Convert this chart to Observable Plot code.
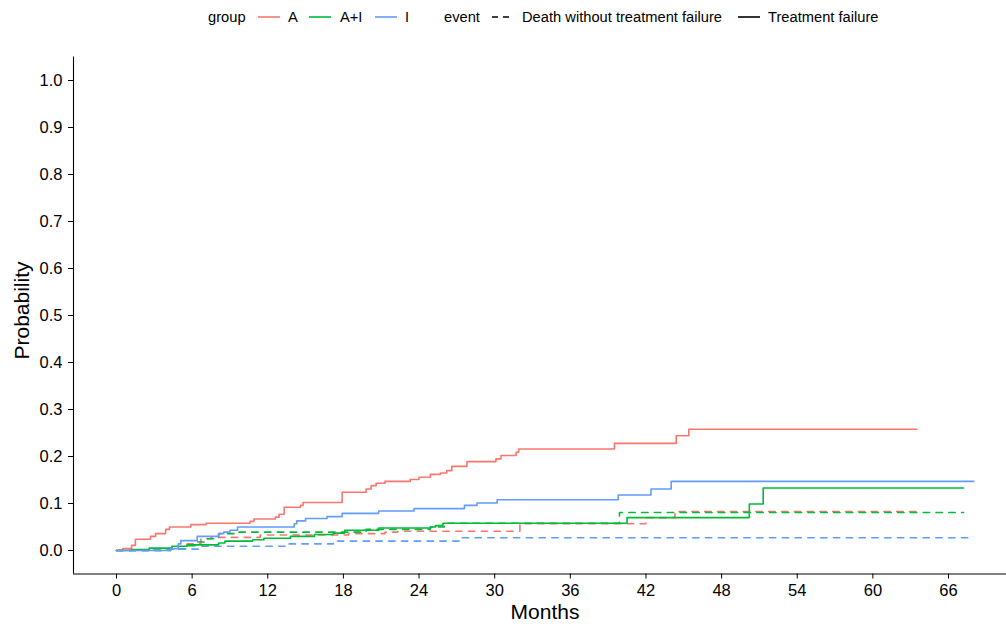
<!DOCTYPE html>
<html>
<head>
<meta charset="utf-8">
<script src="https://cdn.jsdelivr.net/npm/d3@7"></script>
<script src="https://cdn.jsdelivr.net/npm/@observablehq/plot@0.6"></script>
<style>
  html, body { margin: 0; padding: 0; background: #fff; }
  body { width: 1006px; height: 627px; overflow: hidden; font-family: "Liberation Sans", Arial, sans-serif; }
  #legend { position: relative; width: 1006px; height: 36px; font-size: 14.7px; color: #000; }
  #legend span { position: absolute; top: 17px; transform: translateY(-50%); white-space: nowrap; line-height: 1; }
  #legend svg { position: absolute; top: 12px; }
</style>
</head>
<body>
<div id="legend"></div>
<div id="chart"></div>
<script>
// ---- data ----
const groups = ["A", "A+I", "I"];
const groupColors = ["#F8766D", "#00BA38", "#619CFF"];
const events = ["Death without treatment failure", "Treatment failure"];

const xTicks = [0, 6, 12, 18, 24, 30, 36, 42, 48, 54, 60, 66];
const yTicks = [0, 0.1, 0.2, 0.3, 0.4, 0.5, 0.6, 0.7, 0.8, 0.9, 1.0];

// Treatment failure
const tfA_time = [0, 0.5, 1.2, 1.5, 2.7, 3.1, 3.9, 4.2, 5.9, 7.1, 10.6, 10.9, 12.6, 12.9, 13.3, 14.6, 14.8, 17.9, 19.8, 20.2, 20.6, 21.3, 23.3, 24.0, 24.9, 25.7, 26.2, 26.6, 27.8, 30.1, 30.5, 31.7, 31.9, 39.5, 44.4, 45.4, 63.5];
const tfA_prob = [0, 0.004, 0.011, 0.024, 0.030, 0.036, 0.045, 0.050, 0.055, 0.058, 0.062, 0.067, 0.071, 0.077, 0.092, 0.096, 0.102, 0.124, 0.131, 0.138, 0.143, 0.147, 0.151, 0.156, 0.162, 0.165, 0.170, 0.179, 0.189, 0.195, 0.202, 0.209, 0.216, 0.228, 0.244, 0.258, 0.258];

const tfAI_time = [0, 1.2, 2.6, 4.4, 5.6, 8.1, 8.6, 10.8, 11.7, 13.8, 15.7, 17.2, 18.1, 20.8, 24.9, 25.3, 25.9, 40.5, 50.2, 51.3, 67.2];
const tfAI_prob = [0, 0.002, 0.005, 0.009, 0.012, 0.016, 0.020, 0.023, 0.026, 0.030, 0.034, 0.037, 0.043, 0.048, 0.050, 0.053, 0.058, 0.070, 0.099, 0.133, 0.133];

const tfI_time = [0, 4.3, 4.9, 5.1, 6.4, 8.1, 8.5, 9.0, 9.6, 14.1, 14.3, 15.0, 16.7, 17.9, 20.8, 23.6, 27.6, 28.6, 30.2, 39.8, 42.4, 44.0, 68.0];
const tfI_prob = [0, 0.004, 0.014, 0.021, 0.030, 0.036, 0.039, 0.043, 0.050, 0.057, 0.063, 0.068, 0.072, 0.079, 0.084, 0.089, 0.096, 0.101, 0.108, 0.118, 0.131, 0.147, 0.147];

// Death without treatment failure
const dA_time = [0, 4.0, 5.6, 6.7, 7.5, 11.4, 18.4, 21.3, 22.3, 32.0, 42.0, 44.3, 63.5];
const dA_prob = [0, 0.003, 0.014, 0.025, 0.028, 0.033, 0.036, 0.039, 0.041, 0.057, 0.070, 0.083, 0.083];

const dAI_time = [0, 4.3, 5.6, 6.4, 7.2, 8.1, 9.6, 19.8, 24.9, 26.0, 39.9, 67.2];
const dAI_prob = [0, 0.003, 0.010, 0.018, 0.025, 0.036, 0.039, 0.045, 0.050, 0.058, 0.081, 0.081];

const dI_time = [0, 2.8, 6.7, 13.6, 17.2, 27.4, 68.0];
const dI_prob = [0, 0.003, 0.009, 0.014, 0.020, 0.027, 0.027];

// ---- build table ----
function series(group, event, times, probs) {
  return times.map((t, i) => ({group, event, id: group + "|" + event, time: t, prob: probs[i]}));
}
const rows = [
  ...series("A", events[1], tfA_time, tfA_prob),
  ...series("A+I", events[1], tfAI_time, tfAI_prob),
  ...series("I", events[1], tfI_time, tfI_prob),
  ...series("A", events[0], dA_time, dA_prob),
  ...series("A+I", events[0], dAI_time, dAI_prob),
  ...series("I", events[0], dI_time, dI_prob)
];
const solidRows = rows.filter(d => d.event === events[1]);
const dashRows = rows.filter(d => d.event === events[0]);

const xMin = -3.41, xMax = 70.6, yMin = -0.05, yMax = 1.05;
const font = "Liberation Sans, Arial, sans-serif";

const chart = Plot.plot({
  width: 1006,
  height: 591,
  marginLeft: 73,
  marginRight: 0,
  marginTop: 20.5,
  marginBottom: 53.5,
  style: {fontFamily: font, background: "#fff", color: "#000"},
  x: {domain: [xMin, xMax], label: null},
  y: {domain: [yMin, yMax], label: null},
  color: {domain: groups, range: groupColors},
  marks: [
    Plot.line(dashRows, {x: "time", y: "prob", z: "id", stroke: "group", curve: "step-after", strokeWidth: 1.6, strokeDasharray: "6.4,6.4"}),
    Plot.line(solidRows, {x: "time", y: "prob", z: "id", stroke: "group", curve: "step-after", strokeWidth: 1.6}),
    Plot.ruleX([xMin], {stroke: "#000", strokeWidth: 1.1}),
    Plot.ruleY([yMin], {stroke: "#000", strokeWidth: 1.1}),
    Plot.axisX({ticks: xTicks, tickFormat: d => String(d), tickSize: 5, tickPadding: 5, fontSize: 16.5, label: null, stroke: "#000", color: "#000"}),
    Plot.axisY({ticks: yTicks, tickFormat: d3.format(".1f"), tickSize: 5, tickPadding: 6, fontSize: 16.5, label: null, stroke: "#000", color: "#000"}),
    Plot.text(["Months"], {frameAnchor: "bottom", dx: 5, dy: 38.5, fontSize: 21, lineAnchor: "middle", textAnchor: "middle", fill: "#000"}),
    Plot.text(["Probability"], {frameAnchor: "left", dx: -51, dy: -5, rotate: -90, fontSize: 21, lineAnchor: "middle", textAnchor: "middle", fill: "#000"})
  ]
});
document.getElementById("chart").appendChild(chart);

// ---- legend (HTML) ----
const legend = document.getElementById("legend");
function addText(txt, left) {
  const s = document.createElement("span");
  s.textContent = txt;
  s.style.left = left + "px";
  legend.appendChild(s);
}
function addLine(left, color, dashed) {
  const ns = "http://www.w3.org/2000/svg";
  const svg = document.createElementNS(ns, "svg");
  svg.setAttribute("width", 22);
  svg.setAttribute("height", 10);
  svg.style.left = left + "px";
  const l = document.createElementNS(ns, "line");
  l.setAttribute("x1", 0); l.setAttribute("x2", 22);
  l.setAttribute("y1", 5); l.setAttribute("y2", 5);
  l.setAttribute("stroke", color);
  l.setAttribute("stroke-width", 1.6);
  if (dashed) l.setAttribute("stroke-dasharray", "6,5");
  svg.appendChild(l);
  legend.appendChild(svg);
}
addText("group", 208);
const gx = [[258, 288], [309, 340], [375, 405]];
groups.forEach((g, i) => { addLine(gx[i][0], groupColors[i], false); addText(g, gx[i][1]); });
addText("event", 444);
addLine(492, "#000", true); addText(events[0], 522);
addLine(738, "#000", false); addText(events[1], 768);
</script>
</body>
</html>
